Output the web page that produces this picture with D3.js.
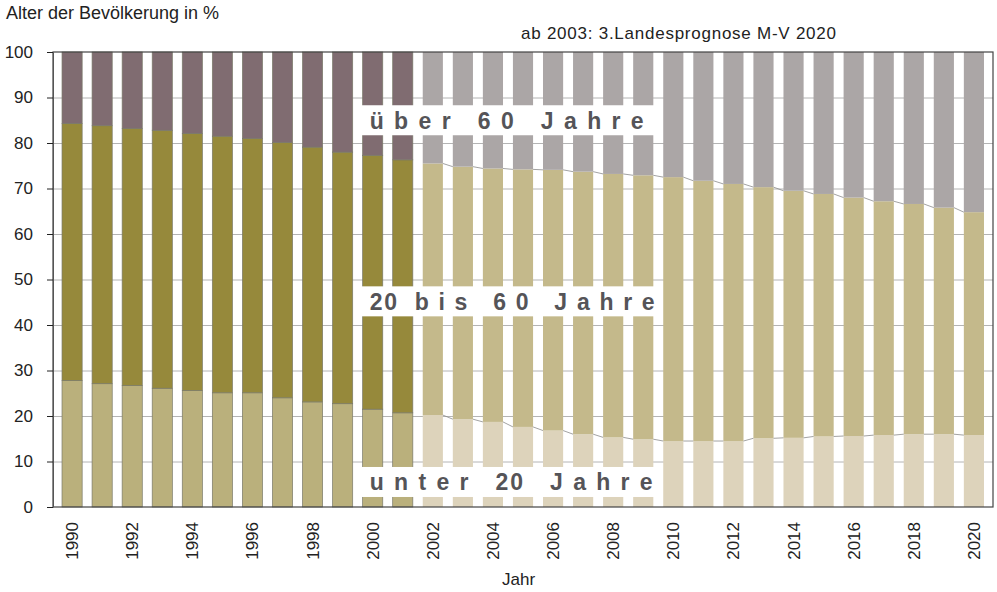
<!DOCTYPE html>
<html>
<head>
<meta charset="utf-8">
<script src="https://cdn.jsdelivr.net/npm/d3@7"></script>
<style>
  body { margin: 0; background: #fff; }
  text { font-family: "Liberation Sans", Arial, sans-serif; }
</style>
</head>
<body>
<script>
// Jahre und Anteile der Altersgruppen (in %)
var years = d3.range(1990, 2021);
var firstForecast = 2002;

var under20 = [27.8, 27.1, 26.7, 26.1, 25.6, 25.1, 25.1, 24.0, 23.1, 22.7, 21.5,
               20.7, 20.2, 19.3, 18.7, 17.6, 16.8, 16.0, 15.3, 14.9, 14.5,
               14.5, 14.5, 15.1, 15.2, 15.5, 15.6, 15.8, 16.0, 16.0, 15.8];
var age20to60 = [56.5, 56.7, 56.5, 56.7, 56.5, 56.4, 55.9, 56.1, 56.0, 55.3, 55.8,
                 55.6, 55.3, 55.5, 55.7, 56.6, 57.3, 57.7, 57.9, 58.0, 58.0,
                 57.2, 56.5, 55.2, 54.3, 53.3, 52.4, 51.4, 50.6, 49.8, 49.0];
var over60 = [15.7, 16.2, 16.8, 17.2, 17.9, 18.5, 19.0, 19.9, 20.9, 22.0, 22.7,
              23.7, 24.5, 25.2, 25.6, 25.8, 25.9, 26.3, 26.8, 27.1, 27.5,
              28.3, 29.0, 29.7, 30.5, 31.2, 32.0, 32.8, 33.4, 34.2, 35.2];

var groups = ["u20", "m", "o60"];
var yTicks = d3.range(0, 101, 10);
var xTicks = d3.range(1990, 2021, 2);

// colours: [actual, forecast]
var colors = {
    u20: ["#bab07c", "#ddd3bb"],
    m:   ["#96893b", "#c4b98b"],
    o60: ["#806c71", "#aba6a6"]
};

var labels = [
    {text: "ü b e r   6 0   J a h r e", v: 85.0, w: 274},
    {text: "20  b i s   6 0   J a h r e", v: 45.2, w: 285},
    {text: "u n t e r   20   J a h r e", v: 5.5, w: 283}
];

var width = 997, height = 592;
var plotLeft = 53, plotRight = 993, plotTop = 52, plotBottom = 507;

var svg = d3.select("body").append("svg")
    .attr("width", width)
    .attr("height", height);

var table = years.map(function(yr, i){
    return {year: yr, u20: under20[i], m: age20to60[i], o60: over60[i]};
});
var series = d3.stack().keys(groups)(table);

var x = d3.scaleBand()
    .domain(years)
    .range([plotLeft, plotRight])
    .paddingInner(0.33)
    .paddingOuter(0.3);

var y = d3.scaleLinear()
    .domain([0, 100])
    .range([plotBottom, plotTop]);

// gridlines
svg.append("g")
    .selectAll("line")
    .data(yTicks.slice(1, -1))
    .enter()
    .append("line")
    .attr("x1", plotLeft).attr("x2", plotRight)
    .attr("y1", function(d){ return y(d) + 0.5; })
    .attr("y2", function(d){ return y(d) + 0.5; })
    .attr("stroke", "#b4b4b4")
    .attr("stroke-width", 1);

// stacked bars
svg.append("g")
    .selectAll("g")
    .data(series)
    .enter()
    .append("g")
    .selectAll("rect")
    .data(function(s){ return s.map(function(d){ d.key = s.key; return d; }); })
    .enter()
    .append("rect")
    .attr("x", function(d){ return x(d.data.year); })
    .attr("width", x.bandwidth())
    .attr("y", function(d){ return y(d[1]); })
    .attr("height", function(d){ return y(d[0]) - y(d[1]); })
    .attr("fill", function(d){ return colors[d.key][d.data.year >= firstForecast ? 1 : 0]; })
    .attr("stroke", function(d){ return d.data.year >= firstForecast ? "none" : "#7a7a6a"; })
    .attr("stroke-width", 0.7);

// series lines between forecast bars
var fc = table.filter(function(d){ return d.year >= firstForecast; });
[series[0], series[1]].forEach(function(s){
    var byYear = {};
    s.forEach(function(d){ byYear[d.data.year] = d[1]; });
    svg.append("g")
        .selectAll("line")
        .data(fc.slice(0, -1))
        .enter()
        .append("line")
        .attr("x1", function(d){ return x(d.year) + x.bandwidth(); })
        .attr("x2", function(d){ return x(d.year + 1); })
        .attr("y1", function(d){ return y(byYear[d.year]); })
        .attr("y2", function(d){ return y(byYear[d.year + 1]); })
        .attr("stroke", "#8a8a8a")
        .attr("stroke-width", 0.8);
});

// frame
svg.append("rect")
    .attr("x", plotLeft).attr("y", plotTop)
    .attr("width", plotRight - plotLeft).attr("height", plotBottom - plotTop)
    .attr("fill", "none")
    .attr("stroke", "#444")
    .attr("stroke-width", 1.2);

// y axis
var yAxis = svg.append("g")
    .attr("transform", "translate(" + plotLeft + ",0)")
    .call(d3.axisLeft(y).tickValues(yTicks).tickSize(6).tickSizeOuter(0).tickPadding(14));
yAxis.select(".domain").attr("stroke", "#555");
yAxis.selectAll(".tick line").attr("stroke", "#222");
yAxis.selectAll("text")
    .attr("font-size", 17)
    .attr("fill", "#222")
    .style("font-family", "Liberation Sans, Arial, sans-serif");

// x axis
var xAxis = svg.append("g")
    .attr("transform", "translate(0," + plotBottom + ")")
    .call(d3.axisBottom(x).tickValues(xTicks).tickSize(0));
xAxis.select(".domain").remove();
xAxis.selectAll("text")
    .attr("font-size", 17)
    .attr("fill", "#222")
    .style("font-family", "Liberation Sans, Arial, sans-serif")
    .attr("text-anchor", "end")
    .attr("transform", "rotate(-90)")
    .attr("x", -15)
    .attr("y", 0)
    .attr("dy", "0.35em");

// label boxes
var gap = x.step() - x.bandwidth();
var boxLeft = x(2000) - gap / 2;
var boxRight = x(2009) + x.bandwidth() + gap / 2;
var lab = svg.append("g")
    .selectAll("g")
    .data(labels)
    .enter()
    .append("g");
lab.append("rect")
    .attr("x", boxLeft)
    .attr("width", boxRight - boxLeft)
    .attr("y", function(d){ return y(d.v) - 15; })
    .attr("height", 30)
    .attr("fill", "#fff");
lab.append("text")
    .attr("x", boxLeft + 12)
    .attr("y", function(d){ return y(d.v) + 8.5; })
    .attr("textLength", function(d){ return d.w; })
    .attr("lengthAdjust", "spacing")
    .style("white-space", "pre")
    .attr("font-size", 23)
    .attr("font-weight", "bold")
    .attr("fill", "#555458")
    .text(function(d){ return d.text; });

// titles
svg.append("text")
    .attr("x", 6).attr("y", 19)
    .attr("font-size", 18)
    .attr("fill", "#222")
    .text("Alter der Bevölkerung in %");

svg.append("text")
    .attr("x", 521).attr("y", 39)
    .attr("font-size", 17)
    .attr("textLength", 315)
    .attr("lengthAdjust", "spacing")
    .attr("fill", "#222")
    .text("ab 2003: 3.Landesprognose M-V 2020");

svg.append("text")
    .attr("x", 502).attr("y", 585)
    .attr("font-size", 17)
    .attr("fill", "#222")
    .text("Jahr");
</script>
</body>
</html>
